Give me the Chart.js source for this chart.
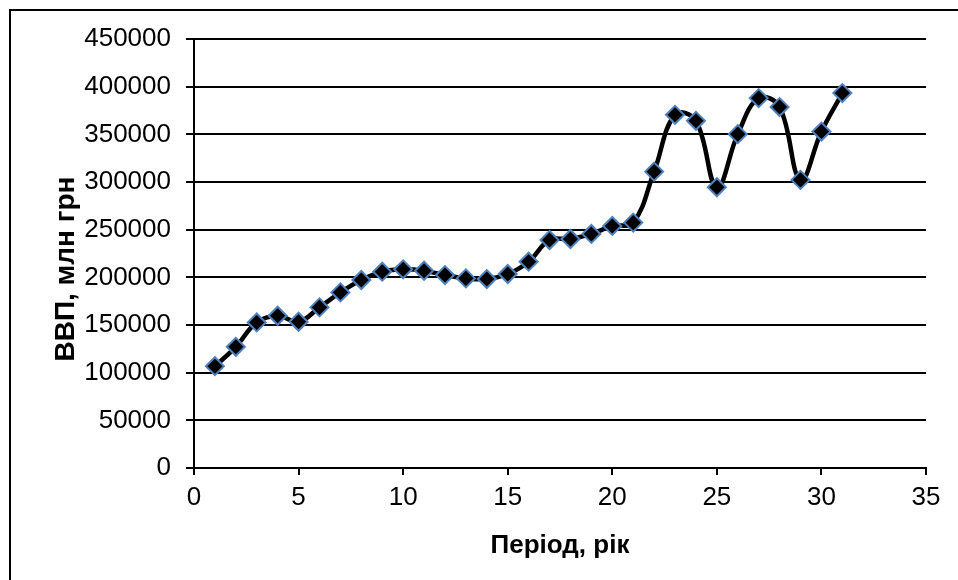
<!DOCTYPE html>
<html>
<head>
<meta charset="utf-8">
<script src="https://cdn.jsdelivr.net/npm/chart.js@4"></script>
<style>
html,body{margin:0;padding:0;background:#fff;}
#wrap{width:958px;height:580px;position:relative;}
</style>
</head>
<body>
<div id="wrap"><canvas id="c" width="958" height="580"></canvas></div>
<script>
const periods = [1,2,3,4,5,6,7,8,9,10,11,12,13,14,15,16,17,18,19,20,21,22,23,24,25,26,27,28,29,30,31];
const gdp = [106800,127100,152700,159700,153400,168500,184200,197200,205900,208400,206900,202400,198900,198200,203500,216400,239200,240200,245500,253900,257400,310900,370500,364200,294500,350200,388000,378600,302200,352900,393300];
const xTicks = [0,5,10,15,20,25,30,35];
const yTicks = [0,50000,100000,150000,200000,250000,300000,350000,400000,450000];
const xTitle = 'Період, рік';
const yTitle = 'ВВП, млн грн    ';

const points = periods.map((p, i) => ({x: p, y: gdp[i]}));

const frame = {
  id: 'frame',
  afterDraw(chart) {
    const ctx = chart.ctx;
    ctx.save();
    ctx.strokeStyle = '#000';
    ctx.lineWidth = 2;
    ctx.strokeRect(10, 10, 1000, 1000);
    ctx.restore();
  }
};

const FONT = "'Liberation Sans', Arial, sans-serif";

new Chart(document.getElementById('c'), {
  type: 'scatter',
  data: {
    datasets: [{
      data: points,
      showLine: true,
      borderColor: '#000',
      borderWidth: 4.5,
      tension: 0.4,
      pointStyle: 'rectRot',
      pointRadius: 9,
      pointHoverRadius: 9,
      pointBackgroundColor: '#000',
      pointBorderColor: '#4F81BD',
      pointBorderWidth: 2
    }]
  },
  options: {
    responsive: false,
    animation: false,
    devicePixelRatio: 1,
    layout: {padding: {left: 49, top: 39, right: 32, bottom: 19}},
    plugins: {legend: {display: false}, tooltip: {enabled: false}},
    scales: {
      x: {
        type: 'linear',
        min: 0, max: 35,
        afterBuildTicks: (s) => { s.ticks = xTicks.map(v => ({value: v})); },
        afterFit: (s) => { s.height = 93; },
        border: {color: '#000', width: 2},
        grid: {drawOnChartArea: false, drawTicks: true, tickLength: 7, color: '#000', lineWidth: 2},
        ticks: {color: '#000', font: {family: FONT, size: 26}, padding: 7, maxRotation: 0},
        title: {display: true, text: xTitle, color: '#000', font: {family: FONT, size: 26, weight: 'bold'}, padding: 0}
      },
      y: {
        type: 'linear',
        min: 0, max: 450000,
        afterBuildTicks: (s) => { s.ticks = yTicks.map(v => ({value: v})); },
        afterFit: (s) => { s.width = 145; },
        border: {color: '#000', width: 2},
        grid: {drawTicks: true, tickLength: 8, color: '#000', lineWidth: 2},
        ticks: {color: '#000', font: {family: FONT, size: 26}, padding: 15, callback: (v) => String(v)},
        title: {display: true, text: yTitle, color: '#000', font: {family: FONT, size: 28, weight: 'bold'}, padding: 0}
      }
    }
  },
  plugins: [frame]
});
</script>
</body>
</html>
